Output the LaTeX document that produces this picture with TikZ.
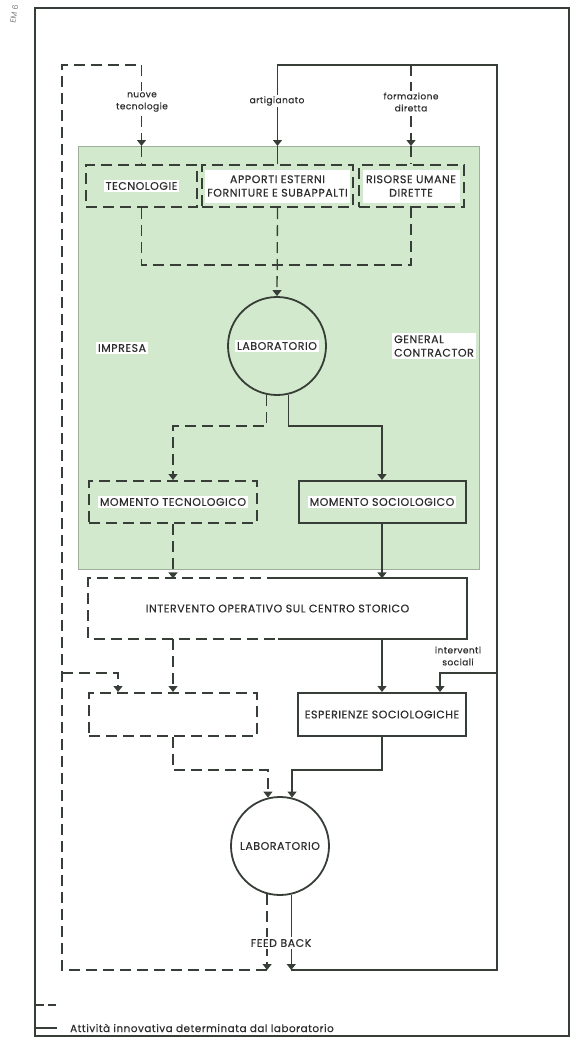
\documentclass[tikz,border=0pt]{standalone}
\usepackage{fontspec}
\setmainfont{Poppins}
\newfontfamily\fut{Poppins}[LetterSpace=5, FakeBold=0.4]
\usetikzlibrary{arrows.meta}
\definecolor{verde}{RGB}{211,233,205}
\definecolor{tratto}{RGB}{55,62,55}
\definecolor{testo}{RGB}{45,45,45}

\tikzset{
    tr/.style={dash pattern=on 11pt off 6pt},
    frecc/.style={-{Triangle[width=9pt,length=6pt]}},
    scatola/.style={rectangle, draw=tratto, line width=2pt, minimum height=42pt, inner sep=0pt},
    cerchio/.style={circle, draw=tratto, line width=1.8pt, minimum size=98pt, inner sep=0pt},
    scritta/.style={fill=white, inner sep=2pt, text=testo, align=center, font=\fut\fontsize{11}{13.5}\selectfont},
    etich/.style={fill=white, inner sep=1.5pt, text=testo, align=center, font=\fut\fontsize{9}{12}\selectfont}
}

\begin{document}
\begin{tikzpicture}[x=1pt, y=-1pt, line width=1.3pt, color=tratto]
                \useasboundingbox (0,0) rectangle (571,1041);
                % Fondo
                \draw[line width=1.1pt] (35,8) rectangle (569,1036);
                \fill[verde, draw=verde!75!black, line width=0.4pt] (78,146) rectangle (479,569);
                \node[rotate=80, text=gray, font=\fontsize{8}{8}\selectfont] at (14,14) (timbro) {EM 6};

                % Coordinate
                \coordinate (cima) at (0,65);
                \coordinate (vtop) at (0,146);
                \coordinate (nodo) at (277,265);
                \coordinate (bivio1) at (0,426);
                \coordinate (ramo) at (0,673);
                \coordinate (bivio2) at (0,770);
                \coordinate (basso) at (0,970);
                \coordinate (sx) at (62,0);
                \coordinate (dx) at (497,0);
                \coordinate (ingr) at (118,0);
                \coordinate (soc) at (440,0);

                % Nodes
                \node[scatola, tr, minimum width=111pt] at (141.5,186) (tec) {};
                \node[scritta] at (tec) {TECNOLOGIE};
                \node[scatola, tr, minimum width=151pt] at (277.5,186) (app) {};
                \node[scritta, minimum width=143pt, minimum height=33pt] at (app) {APPORTI ESTERNI\\FORNITURE E SUBAPPALTI};
                \node[scatola, tr, minimum width=105pt] at (411,186) (ris) {};
                \node[scritta, minimum width=97pt, minimum height=33pt] at (ris) {RISORSE UMANE\\DIRETTE};

                \node[cerchio] at (277,346) (lab1) {};
                \node[scritta] at (lab1) {LABORATORIO};
                \node[scritta] at (122,348) (impresa) {IMPRESA};
                \node[scritta, align=left] at (434,346) (gc) {GENERAL\\CONTRACTOR};

                \node[scatola, tr, minimum width=168pt] at (173,502) (mtec) {};
                \node[scritta] at (mtec) {MOMENTO TECNOLOGICO};
                \node[scatola, minimum width=167pt] at (382,502) (msoc) {};
                \node[scritta] at (msoc) {MOMENTO SOCIOLOGICO};

                \node[rectangle, minimum width=377pt, minimum height=59pt, inner sep=0pt] at (277.5,608.5) (inter) {};
                \node[scritta] at (inter) {INTERVENTO OPERATIVO SUL CENTRO STORICO};
                \draw[tr, line width=2pt] (inter.north) -| (inter.west) |- (inter.south);
                \draw[line width=2pt] (inter.north) -| (inter.east) |- (inter.south);

                \node[scatola, tr, minimum width=168pt, minimum height=43pt] at (173,714.5) (vuoto) {};
                \node[scatola, minimum width=168pt, minimum height=43pt] at (382,714.5) (esp) {};
                \node[scritta] at (esp) {ESPERIENZE SOCIOLOGICHE};

                \node[cerchio] at (280,846) (lab2) {};
                \node[scritta] at (lab2) {LABORATORIO};

                % Ingressi dall'alto
                \draw[tr, frecc] (lab2.255 |- basso) -| (sx |- cima) -| (tec.north |- vtop);
                \draw[tr] (tec.north |- vtop) -- (tec.north);
                \draw[frecc] (lab2.283 |- basso) -| (dx |- cima) -| (app.north |- vtop);
                \draw (app.north |- vtop) -- (app.north);
                \draw[tr, frecc] (ris.north |- cima) -- (ris.north |- vtop);
                \draw[tr] (ris.north |- vtop) -- (ris.north);
                \node[etich] at (142,102) (nt) {nuove\\tecnologie};
                \node[etich] at (277,101) (art) {artigianato};
                \node[etich] at (411,102) (fd) {formazione\\diretta};

                % Impresa
                \draw[tr] (tec.south) |- (nodo) -| (ris.south);
                \draw[tr, frecc] (app.south) -- (lab1.north);
                \draw[tr, frecc] (lab1.258) |- (mtec.north |- bivio1) -- (mtec.north);
                \draw[frecc] (lab1.283) |- (msoc.north |- bivio1) -- (msoc.north);
                \draw[tr, frecc] (mtec.south) -- (mtec.south |- inter.north);
                \draw[frecc] (msoc.south) -- (msoc.south |- inter.north);

                % Esperienze
                \draw[tr, frecc] (mtec.south |- inter.south) -- (vuoto.north);
                \draw[frecc] (esp.north |- inter.south) -- (esp.north);
                \draw[tr, frecc] (sx |- ramo) -| (ingr |- vuoto.north);
                \draw[frecc] (dx |- ramo) -| (soc |- esp.north);
                \node[etich] at (458,656) (is) {interventi\\sociali};
                \draw[tr, frecc] (vuoto.south) |- (lab2.104 |- bivio2) -- (lab2.104);
                \draw[frecc] (esp.south) |- (lab2.76 |- bivio2) -- (lab2.76);

                % Feed back
                \draw[tr, frecc] (lab2.255) -- (lab2.255 |- basso);
                \draw[frecc] (lab2.283) -- (lab2.283 |- basso);
                \node[scritta] at (281,943) (fb) {FEED BACK};

                % Legenda
                \draw[dash pattern=on 8pt off 4pt] (36,1005) -- (57,1005);
                \draw (36,1028) -- (57,1028);
                \node[etich, anchor=west, font=\fut\fontsize{10.4}{12}\selectfont] at (68,1028) (leg) {Attività innovativa determinata dal laboratorio};
            \end{tikzpicture}
\end{document}
